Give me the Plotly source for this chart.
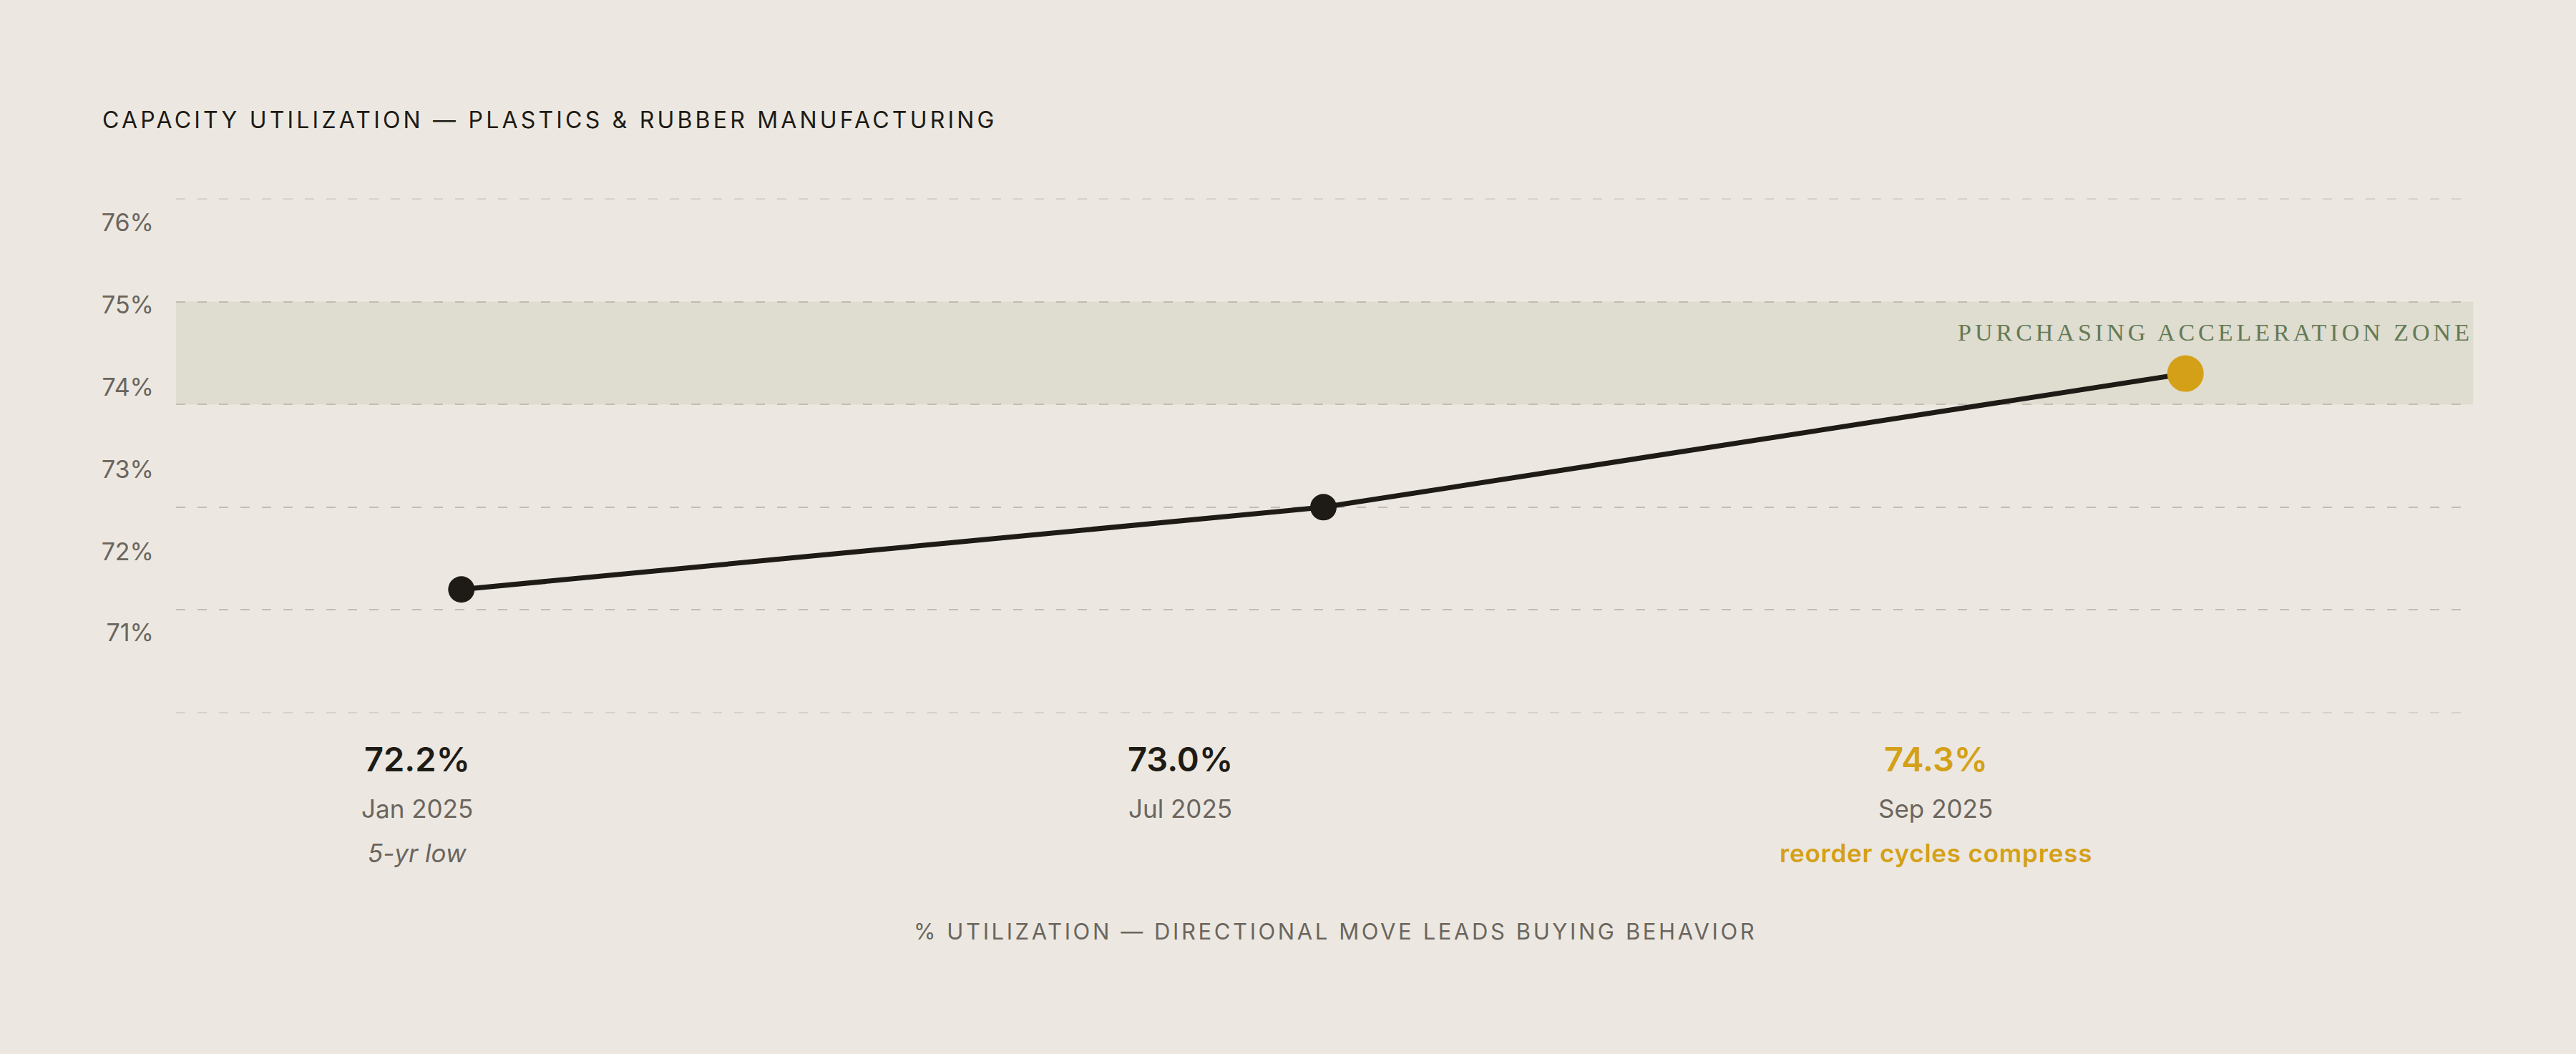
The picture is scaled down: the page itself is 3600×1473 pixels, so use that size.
import plotly.graph_objects as go

# data
months = ["Jan 2025", "Jul 2025", "Sep 2025"]
utilization = [72.2, 73.0, 74.3]
notes = ["5-yr low", "", "reorder cycles compress"]

inner_grid = [72, 73, 74, 75]
outer_grid = [71, 76]
zone_low, zone_high = 74, 75

y_labels = ["76%", "75%", "74%", "73%", "72%", "71%"]
y_label_pos = [75.77, 74.97, 74.17, 73.37, 72.57, 71.78]

# column centres of the caption block under the chart (paper x)
caption_x = [0.1051, 0.4375, 0.7668]

BG = "#ece8e1"
INK = "#1e1b16"
GOLD = "#d4a017"
GREY = "#6b655e"
SAGE = "#647a55"
FONT = "Inter"
Y_RANGE = [70.98, 76.02]  # a little slack so the 71/76 gridlines aren't clipped


def spaced(text, px):
    return f'<span style="letter-spacing:{px}px">{text}</span>'


fig = go.Figure()

fig.add_trace(go.Scatter(
    x=months, y=utilization,
    mode="lines+markers",
    line=dict(color=INK, width=7),
    marker=dict(
        color=[INK, INK, GOLD],
        size=[37, 37, 51],
        opacity=1,
        line=dict(width=0),
    ),
    hoverinfo="skip",
    showlegend=False,
))

# invisible traces that carry the extra y axes (labels, outer grid)
for ax in ("y2", "y3"):
    fig.add_trace(go.Scatter(
        x=[months[0]], y=[utilization[0]], yaxis=ax,
        mode="markers", marker=dict(opacity=0), hoverinfo="skip", showlegend=False,
    ))

# purchasing acceleration band
fig.add_shape(
    type="rect", xref="paper", yref="y",
    x0=0, x1=1.001, y0=zone_low, y1=zone_high,
    fillcolor="#dfdcd0", line=dict(width=0), layer="below",
)

fig.add_annotation(
    xref="paper", yref="y", x=1.0015, y=74.70,
    xanchor="right", yanchor="middle", showarrow=False,
    text=spaced("PURCHASING ACCELERATION ZONE", 5),
    font=dict(family="Liberation Serif", size=34, color=SAGE),
)

# caption block: value / month / note
for i, (m, v, n) in enumerate(zip(months, utilization, notes)):
    hl = i == len(months) - 1
    fig.add_annotation(
        xref="paper", yref="paper", x=caption_x[i], y=-0.0843,
        xanchor="center", yanchor="middle", showarrow=False,
        text=f"{v:.1f}%",
        font=dict(family=FONT, size=47, color=GOLD if hl else INK, weight=600),
    )
    fig.add_annotation(
        xref="paper", yref="paper", x=caption_x[i], y=-0.1809,
        xanchor="center", yanchor="middle", showarrow=False,
        text=m,
        font=dict(family=FONT, size=35, color=GREY),
    )
    if n:
        fig.add_annotation(
            xref="paper", yref="paper", x=caption_x[i], y=-0.2666,
            xanchor="center", yanchor="middle", showarrow=False,
            text=spaced(n, 0.8) if hl else n,
            font=dict(family=FONT, size=35,
                      color=GOLD if hl else GREY,
                      weight=600 if hl else 400,
                      style="normal" if hl else "italic"),
        )

fig.add_annotation(
    xref="paper", yref="paper", x=0.505, y=-0.4185,
    xanchor="center", yanchor="middle", showarrow=False,
    text=spaced("% UTILIZATION — DIRECTIONAL MOVE LEADS BUYING BEHAVIOR", 3.6),
    font=dict(family=FONT, size=31, color=GREY),
)

grid_dash = "13px,17px"

fig.update_layout(
    width=3600, height=1473,
    paper_bgcolor=BG, plot_bgcolor=BG,
    margin=dict(l=246, r=147, t=275, b=474),
    title=dict(
        text=spaced("CAPACITY UTILIZATION — PLASTICS & RUBBER MANUFACTURING", 4.2),
        x=143 / 3600, xanchor="left", xref="container",
        y=1 - 168 / 1473, yanchor="middle", yref="container",
        font=dict(family=FONT, size=32, color=INK),
    ),
    xaxis=dict(
        type="category", range=[-0.331, 2.331],
        showgrid=False, showticklabels=False, zeroline=False, showline=False,
        fixedrange=True,
    ),
    yaxis=dict(
        range=Y_RANGE,
        tickmode="array", tickvals=inner_grid,
        showticklabels=False, ticks="",
        showgrid=True, gridcolor="#c2bdb3", gridwidth=2, griddash=grid_dash,
        zeroline=False, showline=False, fixedrange=True,
    ),
    yaxis2=dict(
        overlaying="y", side="left", range=Y_RANGE,
        tickmode="array", tickvals=y_label_pos, ticktext=y_labels,
        showgrid=False, zeroline=False, showline=False, ticks="",
        ticklabelstandoff=30,
        tickfont=dict(family=FONT, size=34, color=GREY),
        fixedrange=True,
    ),
    yaxis3=dict(
        overlaying="y", side="right", range=Y_RANGE,
        tickmode="array", tickvals=outer_grid,
        showticklabels=False, ticks="",
        showgrid=True, gridcolor="#d6d1c9", gridwidth=2, griddash=grid_dash,
        zeroline=False, showline=False, fixedrange=True,
    ),
)

fig.write_html(
    "out.html",
    config={"displayModeBar": False},
    post_script="document.body.style.margin='0';",
)
